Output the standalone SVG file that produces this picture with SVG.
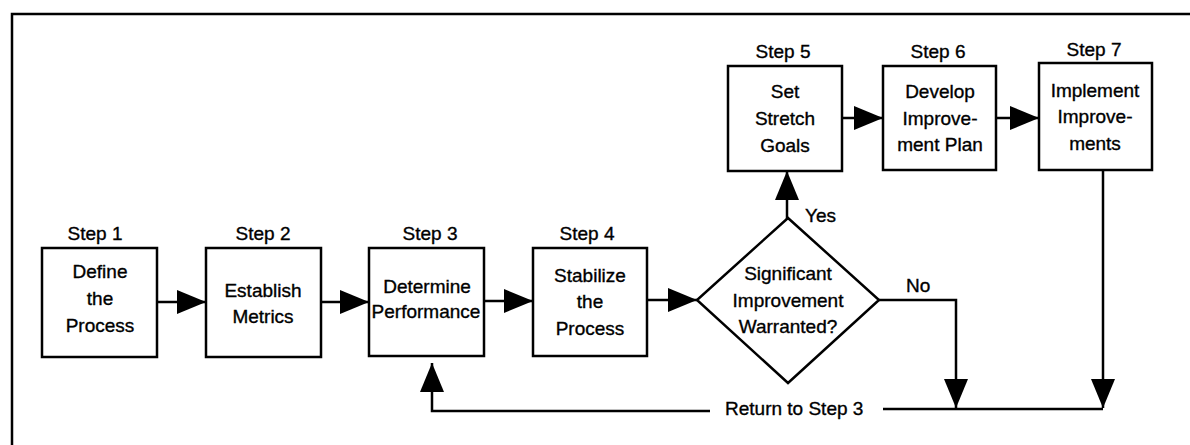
<svg xmlns="http://www.w3.org/2000/svg" width="1190" height="445" viewBox="0 0 1190 445">
<style>
.box{fill:#fff;stroke:#000;stroke-width:2.5}
.ln{fill:none;stroke:#000;stroke-width:2.5}
text{font-family:"Liberation Sans",Arial,sans-serif;font-size:19px;fill:#000;text-anchor:middle;stroke:#000;stroke-width:0.35}
.l{text-anchor:start}
</style>
<defs>
<marker id="ah" markerWidth="30" markerHeight="24" refX="29" refY="12" orient="auto" markerUnits="userSpaceOnUse">
<path d="M0,0 L29,12 L0,24 Z" fill="#000"/>
</marker>
</defs>
<rect width="1190" height="445" fill="#fff"/>
<g id="frame"><path class="ln" d="M12,445 V14 H1190"/></g>
<g id="connectors">
<path class="ln" d="M157,302 H206" marker-end="url(#ah)"/>
<path class="ln" d="M321,302 H369" marker-end="url(#ah)"/>
<path class="ln" d="M484,301 H533" marker-end="url(#ah)"/>
<path class="ln" d="M647,300 H697" marker-end="url(#ah)"/>
<path class="ln" d="M787,219 V171" marker-end="url(#ah)"/>
<path class="ln" d="M842,118 H883" marker-end="url(#ah)"/>
<path class="ln" d="M996,118 H1039" marker-end="url(#ah)"/>
<path class="ln" d="M1103,170 V408" marker-end="url(#ah)"/>
<path class="ln" d="M879,300 H956 V408" marker-end="url(#ah)"/>
<path class="ln" d="M883,409 H1103"/>
<path class="ln" d="M710,411 H432 V363" marker-end="url(#ah)"/>
<text class="l" x="805" y="222">Yes</text>
<text class="l" x="906" y="292">No</text>
<text class="l" x="725" y="415">Return to Step 3</text>
</g>
<g id="step1">
<rect class="box" x="42" y="248" width="115" height="109"/>
<text x="95" y="240">Step 1</text>
<text x="100" y="278">Define</text>
<text x="100" y="305">the</text>
<text x="100" y="332">Process</text>
</g>
<g id="step2">
<rect class="box" x="206" y="248" width="115" height="109"/>
<text x="263" y="240">Step 2</text>
<text x="263" y="297">Establish</text>
<text x="263" y="323">Metrics</text>
</g>
<g id="step3">
<rect class="box" x="369" y="248" width="115" height="108"/>
<text x="430" y="240">Step 3</text>
<text x="427" y="293">Determine</text>
<text x="426" y="318">Performance</text>
</g>
<g id="step4">
<rect class="box" x="533" y="248" width="114" height="108"/>
<text x="587" y="240">Step 4</text>
<text x="590" y="282">Stabilize</text>
<text x="590" y="308">the</text>
<text x="590" y="335">Process</text>
</g>
<g id="decision">
<path class="box" d="M788,218 L879,300 L788,383 L697,300 Z"/>
<text x="788" y="280">Significant</text>
<text x="788" y="307">Improvement</text>
<text x="788" y="333">Warranted?</text>
</g>
<g id="step5">
<rect class="box" x="728" y="66" width="114" height="105"/>
<text x="783" y="58">Step 5</text>
<text x="785" y="98">Set</text>
<text x="785" y="125">Stretch</text>
<text x="785" y="152">Goals</text>
</g>
<g id="step6">
<rect class="box" x="883" y="66" width="113" height="104"/>
<text x="938" y="58">Step 6</text>
<text x="940" y="98">Develop</text>
<text x="940" y="125">Improve-</text>
<text x="940" y="151">ment Plan</text>
</g>
<g id="step7">
<rect class="box" x="1039" y="63" width="113" height="107"/>
<text x="1094" y="56">Step 7</text>
<text x="1095" y="97">Implement</text>
<text x="1095" y="123">Improve-</text>
<text x="1095" y="150">ments</text>
</g>
</svg>
